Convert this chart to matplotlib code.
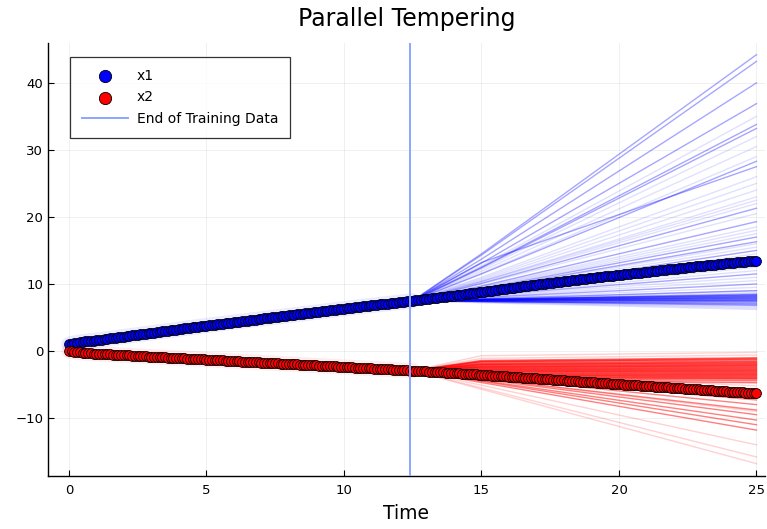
import numpy as np
import matplotlib
matplotlib.use("Agg")
import matplotlib.pyplot as plt

# ---- observed trajectories (one marker every 0.1 time units) ----
time = np.round(np.arange(251) * 0.1, 1)

x1_obs = [
    1.00, 1.10, 1.18, 1.25, 1.31, 1.37, 1.42, 1.47, 1.52, 1.56,
    1.60, 1.66, 1.71, 1.77, 1.82, 1.88, 1.93, 1.99, 2.04, 2.10,
    2.15, 2.21, 2.26, 2.32, 2.37, 2.43, 2.48, 2.54, 2.59, 2.65,
    2.70, 2.76, 2.81, 2.87, 2.92, 2.98, 3.03, 3.09, 3.14, 3.20,
    3.25, 3.31, 3.36, 3.42, 3.47, 3.53, 3.58, 3.64, 3.69, 3.75,
    3.80, 3.85, 3.90, 3.95, 4.00, 4.05, 4.10, 4.15, 4.20, 4.25,
    4.30, 4.35, 4.40, 4.45, 4.50, 4.55, 4.60, 4.65, 4.70, 4.75,
    4.80, 4.85, 4.90, 4.95, 5.00, 5.05, 5.10, 5.15, 5.20, 5.25,
    5.30, 5.35, 5.40, 5.45, 5.50, 5.55, 5.60, 5.65, 5.70, 5.75,
    5.80, 5.85, 5.90, 5.95, 6.00, 6.05, 6.10, 6.15, 6.20, 6.25,
    6.30, 6.35, 6.40, 6.45, 6.50, 6.55, 6.60, 6.65, 6.70, 6.75,
    6.80, 6.85, 6.89, 6.94, 6.98, 7.03, 7.07, 7.12, 7.16, 7.21,
    7.25, 7.30, 7.35, 7.40, 7.45, 7.50, 7.55, 7.60, 7.65, 7.70,
    7.75, 7.80, 7.85, 7.90, 7.95, 8.00, 8.05, 8.10, 8.15, 8.20,
    8.25, 8.31, 8.36, 8.42, 8.47, 8.53, 8.58, 8.64, 8.69, 8.75,
    8.80, 8.86, 8.91, 8.97, 9.02, 9.08, 9.13, 9.19, 9.24, 9.30,
    9.35, 9.41, 9.46, 9.52, 9.57, 9.63, 9.68, 9.74, 9.79, 9.85,
    9.90, 9.95, 10.00, 10.05, 10.10, 10.15, 10.20, 10.25, 10.30, 10.35,
    10.40, 10.45, 10.50, 10.55, 10.60, 10.65, 10.70, 10.75, 10.80, 10.85,
    10.90, 10.95, 10.99, 11.04, 11.08, 11.13, 11.17, 11.22, 11.26, 11.31,
    11.35, 11.40, 11.44, 11.49, 11.53, 11.58, 11.62, 11.67, 11.71, 11.76,
    11.80, 11.85, 11.89, 11.94, 11.98, 12.03, 12.07, 12.12, 12.16, 12.21,
    12.25, 12.30, 12.34, 12.39, 12.43, 12.48, 12.52, 12.57, 12.61, 12.66,
    12.70, 12.74, 12.78, 12.82, 12.86, 12.90, 12.94, 12.98, 13.02, 13.06,
    13.10, 13.14, 13.18, 13.22, 13.26, 13.30, 13.34, 13.38, 13.42, 13.46,
    13.50,
]

x2_obs = [
    0.00, -0.07, -0.13, -0.18, -0.22, -0.26, -0.30, -0.33, -0.36, -0.38,
    -0.40, -0.42, -0.44, -0.47, -0.49, -0.51, -0.53, -0.55, -0.58, -0.60,
    -0.62, -0.64, -0.66, -0.69, -0.71, -0.73, -0.75, -0.77, -0.80, -0.82,
    -0.84, -0.86, -0.88, -0.91, -0.93, -0.95, -0.97, -0.99, -1.02, -1.04,
    -1.06, -1.08, -1.10, -1.13, -1.15, -1.17, -1.19, -1.21, -1.24, -1.26,
    -1.28, -1.30, -1.32, -1.35, -1.37, -1.39, -1.41, -1.43, -1.46, -1.48,
    -1.50, -1.52, -1.54, -1.57, -1.59, -1.61, -1.63, -1.65, -1.68, -1.70,
    -1.72, -1.74, -1.76, -1.79, -1.81, -1.83, -1.85, -1.87, -1.90, -1.92,
    -1.94, -1.96, -1.98, -2.01, -2.03, -2.05, -2.07, -2.09, -2.12, -2.14,
    -2.16, -2.18, -2.20, -2.23, -2.25, -2.27, -2.29, -2.31, -2.34, -2.36,
    -2.38, -2.40, -2.42, -2.45, -2.47, -2.49, -2.51, -2.53, -2.56, -2.58,
    -2.60, -2.62, -2.64, -2.67, -2.69, -2.71, -2.73, -2.75, -2.78, -2.80,
    -2.82, -2.84, -2.86, -2.89, -2.91, -2.93, -2.95, -2.97, -3.00, -3.02,
    -3.04, -3.06, -3.09, -3.11, -3.14, -3.16, -3.18, -3.21, -3.23, -3.26,
    -3.28, -3.31, -3.33, -3.36, -3.39, -3.42, -3.44, -3.47, -3.50, -3.52,
    -3.55, -3.58, -3.60, -3.63, -3.66, -3.69, -3.71, -3.74, -3.77, -3.79,
    -3.82, -3.85, -3.88, -3.90, -3.93, -3.96, -3.99, -4.02, -4.04, -4.07,
    -4.10, -4.13, -4.16, -4.18, -4.21, -4.24, -4.27, -4.30, -4.32, -4.35,
    -4.38, -4.41, -4.44, -4.46, -4.49, -4.52, -4.55, -4.58, -4.60, -4.63,
    -4.66, -4.69, -4.72, -4.74, -4.77, -4.80, -4.83, -4.86, -4.88, -4.91,
    -4.94, -4.97, -5.00, -5.02, -5.05, -5.08, -5.11, -5.14, -5.16, -5.19,
    -5.22, -5.25, -5.28, -5.30, -5.33, -5.36, -5.39, -5.42, -5.44, -5.47,
    -5.50, -5.53, -5.55, -5.58, -5.61, -5.64, -5.66, -5.69, -5.72, -5.74,
    -5.77, -5.80, -5.82, -5.85, -5.88, -5.91, -5.93, -5.96, -5.99, -6.01,
    -6.04, -6.07, -6.09, -6.12, -6.14, -6.17, -6.20, -6.22, -6.25, -6.27,
    -6.30,
]

END_OF_TRAINING = 12.4

# ---- posterior sample trajectories: value at t=15 and t=25 ----
# (before t=12.5 every sample sits on the observed curve)
blue_strong_t15 = [14.5, 14.3, 13.7, 13.1, 12.5, 12.4, 11.5, 13.2, 10.1, 9.7, 9.3, 9.2, 8.9,
                   8.5, 8.3, 8.0, 7.8, 7.7, 7.6, 7.6, 7.5, 7.5, 7.4, 7.4, 7.4, 7.6, 7.6, 7.7,
                   7.5, 7.6, 7.7, 7.7]
blue_strong_t25 = [44.2, 43.2, 40.0, 36.9, 33.8, 33.2, 28.3, 27.5, 21.3, 19.3, 17.0, 16.3, 15.0,
                   13.0, 11.5, 10.0, 9.0, 8.5, 8.0, 7.8, 7.6, 7.4, 7.2, 7.0, 6.8, 7.9, 8.1, 8.3,
                   7.5, 7.7, 8.2, 8.4]
blue_faint_t15 = [12.7, 12.2, 11.9, 11.6, 11.0, 10.8, 10.6, 10.4, 10.4, 10.3, 10.0, 9.6, 9.5,
                  9.4, 9.1, 9.0, 8.8, 8.7, 8.6, 8.5, 8.4, 8.2, 8.1, 7.9, 7.8, 7.7, 7.7, 7.6,
                  7.6, 7.5, 7.5, 7.4, 7.4, 7.3, 7.3, 7.2]
blue_faint_t25 = [35.0, 32.0, 30.5, 29.0, 26.0, 25.0, 24.0, 23.0, 22.5, 22.0, 20.5, 18.5, 18.0,
                  17.5, 16.0, 15.5, 14.5, 14.0, 13.5, 12.5, 12.0, 11.0, 10.5, 9.5, 9.0, 8.7,
                  8.3, 8.1, 7.9, 7.6, 7.4, 7.1, 6.9, 6.6, 6.4, 6.2]

red_strong_t15 = [-1.4, -1.6, -1.9, -2.0, -2.2, -2.4, -2.5, -2.7, -2.8, -3.0, -3.1, -3.3,
                  -3.5, -3.6, -3.8, -4.0, -1.5, -1.8, -2.1, -2.4, -2.7, -3.0, -3.4, -3.7,
                  -4.1, -4.3, -3.8, -3.9, -4.1, -4.2, -4.4, -4.5, -4.7,
                  -1.6, -2.0, -2.3, -2.6, -2.9, -3.2, -3.6, -3.9]
red_strong_t25 = [-1.0, -1.3, -1.6, -1.8, -2.0, -2.2, -2.4, -2.6, -2.8, -3.0, -3.2, -3.4,
                  -3.6, -3.8, -4.0, -4.2, -1.1, -1.5, -1.9, -2.3, -2.7, -3.1, -3.5, -3.9,
                  -4.4, -4.7, -7.3, -8.0, -8.8, -9.5, -10.3, -11.0, -11.8,
                  -1.2, -1.7, -2.1, -2.5, -2.9, -3.3, -3.7, -4.1]
red_faint_t15 = [-0.7, -1.1, -1.7, -2.3, -2.9, -3.4, -3.9, -4.2, -4.5, -3.4, -3.5, -3.7,
                 -3.7, -5.1, -5.5, -5.7, -4.1]
red_faint_t25 = [-0.2, -0.6, -1.4, -2.1, -2.9, -3.5, -4.1, -4.5, -4.8, -5.2, -5.6, -6.6,
                 -7.0, -14.0, -15.8, -16.8, -9.0]

xticks = [0, 5, 10, 15, 20, 25]
yticks = [-10, 0, 10, 20, 30, 40]

plt.rcParams["font.family"] = "DejaVu Sans"

fig = plt.figure(figsize=(7.67, 5.29), dpi=100)
ax = fig.add_axes([0.0626, 0.100, 0.9344, 0.819])

time = np.asarray(time)
x1_obs = np.asarray(x1_obs)
x2_obs = np.asarray(x2_obs)
split = 126  # samples follow the observed curve up to t = 12.5


def draw_samples(obs, t15, t25, color, alpha):
    for a, b in zip(t15, t25):
        tt = np.concatenate([time[:split], [15.0, 25.0]])
        yy = np.concatenate([obs[:split], [a, b]])
        ax.plot(tt, yy, color=color, lw=1.0, alpha=alpha, zorder=2)


draw_samples(x1_obs, blue_faint_t15, blue_faint_t25, "blue", 0.12)
draw_samples(x1_obs, blue_strong_t15, blue_strong_t25, "blue", 0.35)
draw_samples(x2_obs, red_faint_t15, red_faint_t25, "red", 0.18)
draw_samples(x2_obs, red_strong_t15, red_strong_t25, "red", 0.5)

# soft halo of the sample bundle around the observations
ax.plot(time[:split], x1_obs[:split], color="blue", lw=11, alpha=0.08, zorder=2,
        solid_capstyle="round")
ax.plot(time[:split], x2_obs[:split], color="red", lw=11, alpha=0.08, zorder=2,
        solid_capstyle="round")

ax.scatter(time, x1_obs, s=50, color="blue", edgecolors="black", linewidths=0.6,
           zorder=3, label="x1")
ax.scatter(time, x2_obs, s=50, color="red", edgecolors="black", linewidths=0.6,
           zorder=3, label="x2")
ax.axvline(END_OF_TRAINING, color=(0.55, 0.65, 1.0), lw=1.4, zorder=4,
           label="End of Training Data")

ax.set_xlim(-0.76, 25.3)
ax.set_ylim(-18.66, 45.97)
ax.set_xticks(xticks)
ax.set_yticks(yticks)
ax.set_yticklabels([str(v).replace("-", "\u2212") for v in yticks])
ax.tick_params(direction="in", length=4, width=0.8, labelsize=9.5, colors="black")
ax.tick_params(axis="x", pad=6)
ax.grid(True, color="black", alpha=0.07, lw=0.6)
ax.set_axisbelow(True)
for side in ["top", "right"]:
    ax.spines[side].set_visible(False)
for side in ["left", "bottom"]:
    ax.spines[side].set_linewidth(1.0)

ax.set_title("Parallel Tempering", fontsize=17, pad=12)
ax.set_xlabel("Time", fontsize=13.5, labelpad=5)

leg = ax.legend(loc="upper left", bbox_to_anchor=(0.0307, 0.968), fontsize=10,
                frameon=True, fancybox=False, edgecolor="black", markerscale=1.25,
                handlelength=3.3, handletextpad=0.65, borderpad=0.85,
                labelspacing=0.55, borderaxespad=0)
leg.get_frame().set_linewidth(0.9)

fig.savefig("out.png", dpi=100)
